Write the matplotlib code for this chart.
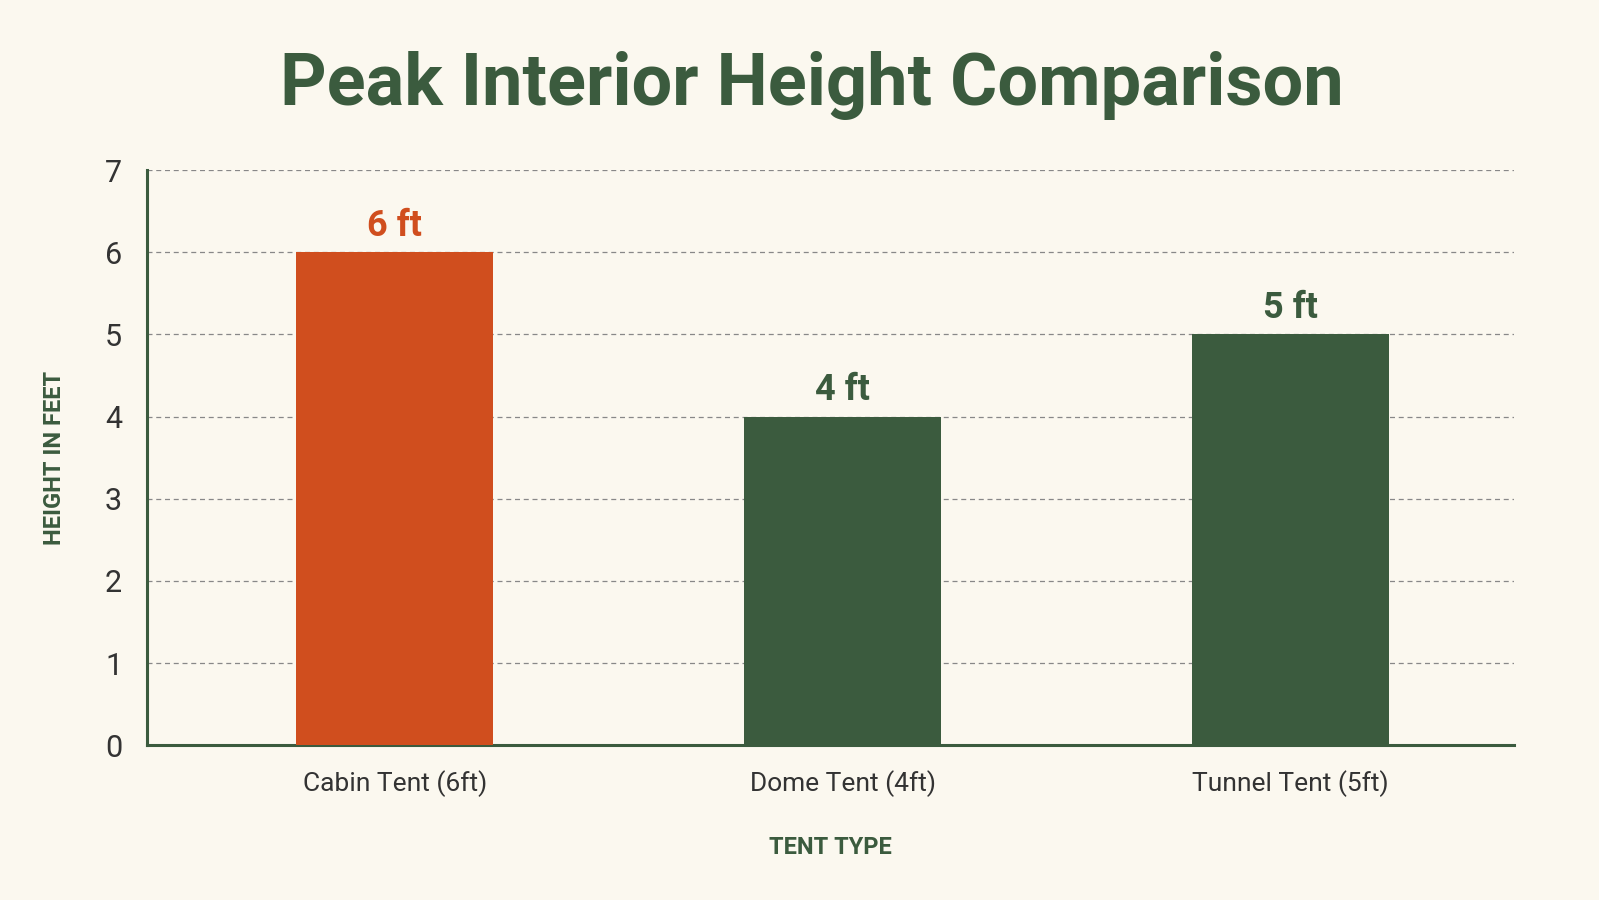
import matplotlib.pyplot as plt

tents = ["Cabin Tent (6ft)", "Dome Tent (4ft)", "Tunnel Tent (5ft)"]
heights = [6, 4, 5]
labels = ["6 ft", "4 ft", "5 ft"]
colors = ["#D04E1E", "#3B5B3E", "#3B5B3E"]

green = "#3B5B3E"
bg = "#FBF8EF"

plt.rcParams['font.family'] = ['Roboto', 'DejaVu Sans']

fig = plt.figure(figsize=(15.99, 9), dpi=100, facecolor=bg)
ax = fig.add_axes([0.092, 0.172, 0.855, 0.639], facecolor=bg)

x = range(len(tents))
ax.bar(x, heights, width=0.44, color=colors, zorder=3)
for i, (h, lab) in enumerate(zip(heights, labels)):
    ax.text(i, h + 0.1, lab, ha="center", va="bottom", fontsize=26,
            fontweight="bold", color=colors[i], stretch="condensed")

ax.set_xlim(-0.553, 2.5)
ax.set_ylim(0, 7)
ax.set_yticks(range(8))
ax.set_xticks(list(x))
ax.set_xticklabels(tents, fontsize=19, color="#333333")
ax.tick_params(axis="y", labelsize=22, colors="#333333", length=0, pad=18)
ax.tick_params(axis="x", length=0, pad=18)
ax.yaxis.grid(True, linestyle=(0, (4, 3)), color="#888888", linewidth=0.9, zorder=0)

for s in ["top", "right"]:
    ax.spines[s].set_visible(False)
for s in ["left", "bottom"]:
    ax.spines[s].set_color(green)
    ax.spines[s].set_linewidth(2.2)

ax.set_ylabel("HEIGHT IN FEET", fontsize=17, fontweight="bold", color=green,
              labelpad=28)
ax.yaxis.label.set_fontproperties(ax.yaxis.label.get_fontproperties())
ax.set_xlabel("TENT TYPE", fontsize=17, fontweight="bold", color=green, labelpad=28)
for lbl in (ax.xaxis.label, ax.yaxis.label):
    lbl.set_text(" ".join(lbl.get_text()) if False else lbl.get_text())

fig.text(0.508, 0.905, "Peak Interior Height Comparison", ha="center", va="center",
         fontsize=52, fontweight="bold", color=green)

fig.savefig("out.png", dpi=100, facecolor=bg)
